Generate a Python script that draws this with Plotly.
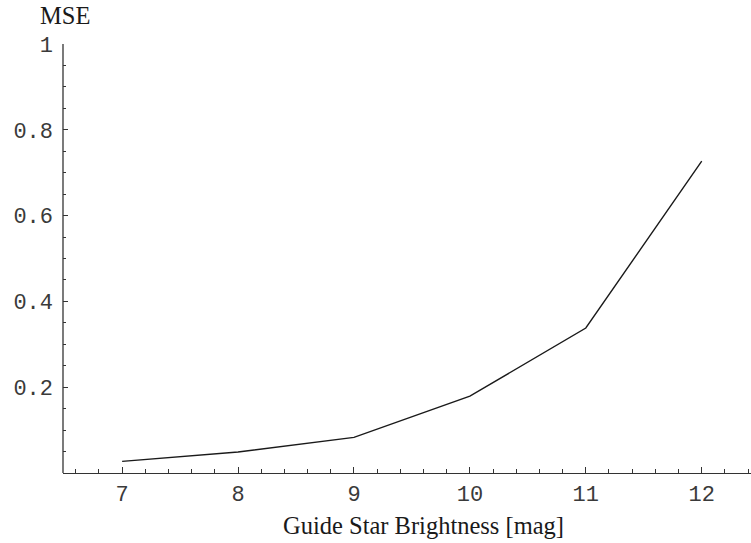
import plotly.graph_objects as go

magnitude = [7, 8, 9, 10, 11, 12]
mse = [0.027, 0.049, 0.083, 0.179, 0.338, 0.727]

x_ticks = [7, 8, 9, 10, 11, 12]
y_ticks = [0.2, 0.4, 0.6, 0.8, 1.0]
y_ticktext = ["0.2", "0.4", "0.6", "0.8", "1"]

W, H = 751, 543
L, R, T, B = 63, 0, 44, 69.5

fig = go.Figure()
fig.add_trace(go.Scatter(x=magnitude, y=mse, mode="lines",
                         line=dict(color="#1a1a1a", width=1.4),
                         showlegend=False, hoverinfo="skip"))

tickfont = dict(family="Liberation Mono, Courier New, monospace", size=22, color="#3a3a3a")
titlefont = dict(family="Liberation Serif, Times New Roman, serif", size=24.5, color="#1a1a1a")
axcol = "#333333"

fig.update_layout(
    width=W, height=H,
    margin=dict(l=L, r=R, t=T, b=B, pad=0),
    paper_bgcolor="white", plot_bgcolor="white",
    xaxis=dict(range=[6.49, 12.425], showgrid=False, zeroline=False,
               showline=True, linecolor=axcol, linewidth=1.3,
               tickvals=x_ticks, ticks="inside", ticklen=6, tickwidth=1,
               tickcolor=axcol, tickfont=tickfont, ticklabelstandoff=0,
               minor=dict(tick0=7, dtick=0.2, ticks="inside", ticklen=4,
                          tickcolor=axcol, tickwidth=1, showgrid=False),
               fixedrange=True),
    yaxis=dict(range=[0, 1.0], showgrid=False, zeroline=False,
               showline=False,
               tickvals=y_ticks, ticktext=y_ticktext, ticks="inside", ticklen=5,
               tickwidth=1, tickcolor=axcol, tickfont=tickfont, ticklabelstandoff=9,
               minor=dict(tick0=0, dtick=0.05, ticks="inside", ticklen=3,
                          tickcolor=axcol, tickwidth=1, showgrid=False),
               fixedrange=True),
    shapes=[dict(type="line", xref="paper", yref="y", x0=0, x1=0, y0=0, y1=1.0,
                 line=dict(color=axcol, width=1.3))],
    annotations=[
        dict(text="MSE", xref="paper", yref="paper", x=0, y=1, xshift=2, yshift=13,
             xanchor="center", yanchor="bottom", showarrow=False, font=titlefont),
        dict(text="Guide Star Brightness [mag]", xref="x", yref="paper", x=9.6, y=0,
             yshift=-37, xanchor="center", yanchor="top", showarrow=False, font=titlefont),
    ],
)

fig.write_html("out.html")
